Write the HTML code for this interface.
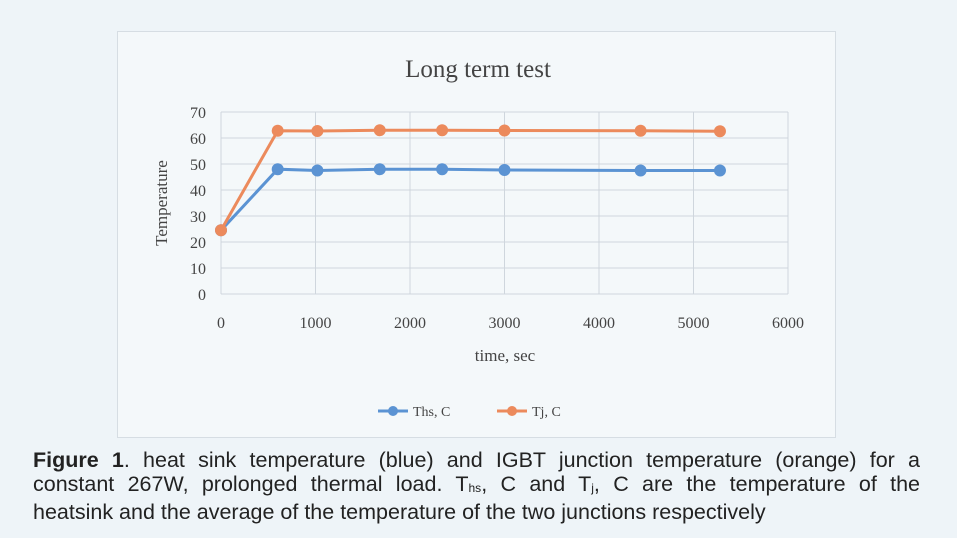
<!DOCTYPE html>
<html><head><meta charset="utf-8"><style>
html,body{margin:0;padding:0;}
body{width:957px;height:538px;background:#eef4f8;position:relative;overflow:hidden;font-family:"Liberation Sans",sans-serif;}
#box{position:absolute;left:117px;top:31px;width:717px;height:405px;background:#f4f8fa;border:1px solid #d6dde3;}
#cap{position:absolute;left:33px;top:448px;width:887px;font-size:21.5px;color:#222;line-height:24px;}
#cap div{text-align:justify;text-align-last:justify;white-space:nowrap;}
#cap div.last{text-align-last:left;}
sub{font-size:12px;vertical-align:-1px;}
</style></head><body>
<div id="box"></div>
<svg id="chart" width="957" height="440" style="position:absolute;left:0;top:0"></svg>
<div id="cap">
<div><b>Figure 1</b>. heat sink temperature (blue) and IGBT junction temperature (orange) for a</div>
<div>constant 267W, prolonged thermal load. T<sub>hs</sub>, C and T<sub>j</sub>, C are the temperature of the</div>
<div class="last">heatsink and the average of the temperature of the two junctions respectively</div>
</div>
<script>
const xValues=[0,600,1020,1680,2340,3000,4440,5280];
const thsValues=[24.5,48,47.5,48,48,47.7,47.5,47.5];
const tjValues=[24.5,62.8,62.7,63,63,62.9,62.8,62.6];
const xTicks=[0,1000,2000,3000,4000,5000,6000];
const yTicks=[0,10,20,30,40,50,60,70];
const svg=document.getElementById('chart');
const NS='http://www.w3.org/2000/svg';
const X0=221,X1=788,Y0=294,Y1=112;
const sx=v=>X0+(v-0)/6000*(X1-X0);
const sy=v=>Y0-(v/70)*(Y0-Y1);
function mk(t,a,p){const e=document.createElementNS(NS,t);for(const k in a)e.setAttribute(k,a[k]);(p||svg).appendChild(e);return e;}
const serif='"Liberation Serif",serif';
yTicks.forEach(v=>{
 const g=mk('line',{x1:X0,x2:X1,y1:sy(v),y2:sy(v),stroke:'#cfd6dd','stroke-width':1});
 
 
 const t=mk('text',{x:X0-15,y:sy(v)+6,'text-anchor':'end','font-family':serif,'font-size':16,fill:'#444'});
 t.textContent=v;
 
 
});
xTicks.forEach(v=>{
 const g=mk('line',{x1:sx(v),x2:sx(v),y1:Y1,y2:Y0,stroke:'#cfd6dd','stroke-width':1});
 
 
 const t=mk('text',{x:sx(v),y:Y0+34,'text-anchor':'middle','font-family':serif,'font-size':16,fill:'#444'});
 t.textContent=v;
 
 
});
let t=mk('text',{x:478,y:77,'text-anchor':'middle','font-family':serif,'font-size':25,fill:'#444'});
t.textContent='Long term test';


t=mk('text',{x:505,y:361,'text-anchor':'middle','font-family':serif,'font-size':17,fill:'#444'});
t.textContent='time, sec';


t=mk('text',{x:0,y:0,'text-anchor':'middle','font-family':serif,'font-size':17,fill:'#444',transform:'translate(167,203) rotate(-90)'});
t.textContent='Temperature';


function series(vals,color,name){
 const pts=xValues.map((x,i)=>sx(x)+','+sy(vals[i])).join(' ');
 const l=mk('polyline',{points:pts,fill:'none',stroke:color,'stroke-width':3});
 
 
 xValues.forEach((x,i)=>{
  const c=mk('circle',{cx:sx(x),cy:sy(vals[i]),r:6,fill:color});
  
  
 });
}
series(thsValues,'#5b93d3','ths');
series(tjValues,'#ec8a5c','tj');
function legend(x,color,label,name){
 const l=mk('line',{x1:x,x2:x+30,y1:411,y2:411,stroke:color,'stroke-width':3});
 
 
 const c=mk('circle',{cx:x+15,cy:411,r:5,fill:color});
 
 
 const tx=mk('text',{x:x+35,y:416,'font-family':serif,'font-size':14,fill:'#444'});
 tx.textContent=label;
 
 
}
legend(378,'#5b93d3','Ths, C','ths');
legend(497,'#ec8a5c','Tj, C','tj');
</script>
</body></html>
